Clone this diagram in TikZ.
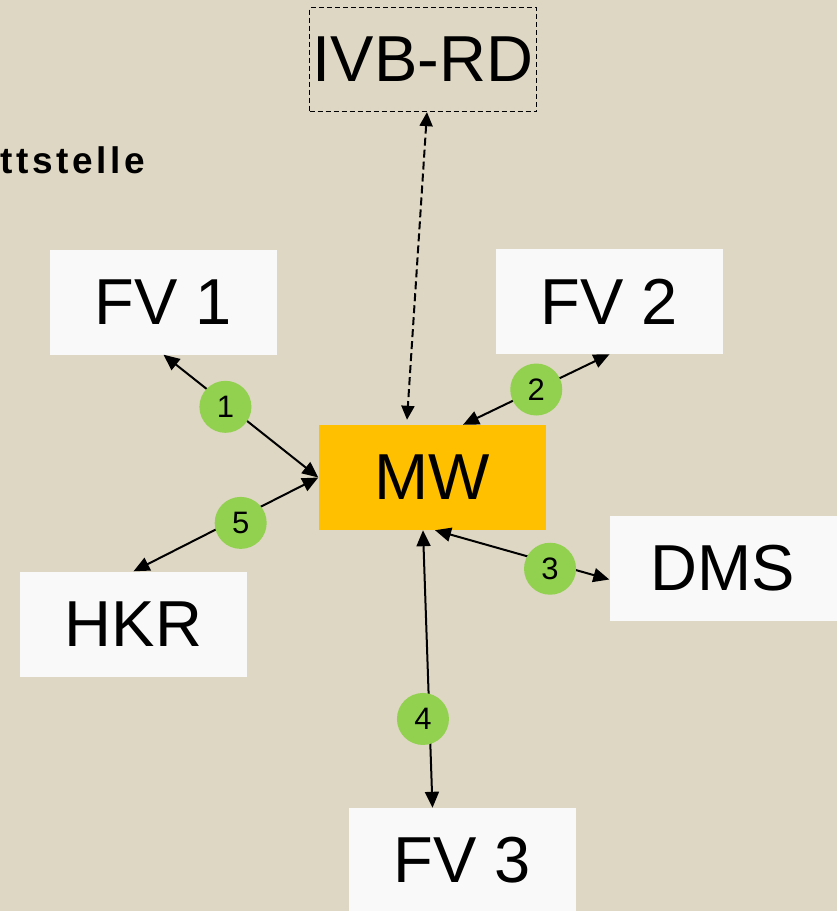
\documentclass[tikz,border=0pt]{standalone}
\usepackage{fontspec}
\setmainfont{Liberation Sans}
\usetikzlibrary{arrows.meta}
\usetikzlibrary{positioning}

\definecolor{paper}{RGB}{222,215,195}
\definecolor{mwgold}{RGB}{255,192,0}
\definecolor{numgreen}{RGB}{146,208,80}
\definecolor{boxwhite}{RGB}{249,249,249}

\begin{document}
\begin{tikzpicture}[x=1pt,y=-1pt,
  every node/.style={inner sep=0pt,font=\fontsize{65}{78}\selectfont},
  sys/.style={fill=boxwhite,minimum width=227pt,minimum height=105pt},
  mwbox/.style={fill=mwgold,minimum width=227pt,minimum height=105pt},
  ext/.style={draw,line width=1.3pt,dash pattern=on 5pt off 3pt,minimum width=227pt,minimum height=104pt},
  num/.style={circle,fill=numgreen,minimum size=52pt,font=\fontsize{31}{36}\selectfont},
  link/.style={line width=2pt,{Triangle[length=16pt,width=14pt]}-{Triangle[length=16pt,width=14pt]}},
  extlink/.style={line width=2pt,dash pattern=on 8pt off 4pt,{Triangle[length=14pt,width=13pt]}-{Triangle[length=14pt,width=13pt]}}]
  \fill[paper] (0,0) rectangle (837,911);
  \useasboundingbox (0,0) rectangle (837,911);

  \node (title) at (0,173)[anchor=base west,font=\fontsize{37}{44}\selectfont\bfseries\addfontfeatures{LetterSpace=10}]{ttstelle};

  \node (ivb) at (423,59.5)[ext]{IVB-RD};
  \node (fv1) at (163.5,302)[sys]{FV 1};
  \node (fv2) at (609.5,301.5)[sys]{FV 2};
  \node (mw) at (432,477.5)[mwbox]{MW};
  \node (dms) at (723,568.5)[sys]{DMS};
  \node (hkr) at (133.5,624)[sys]{HKR};
  \node (fv3) at (462.5,860)[sys,minimum height=104pt]{FV 3};

  \draw[extlink]([xshift=4pt]ivb.south)--([xshift=-25pt,yshift=5pt]mw.north);
  \draw[link](fv1.south)--node[num,pos=.40,yshift=-3pt]{1}(mw.west);
  \draw[link]([xshift=31pt]mw.north)--node[num,pos=.5]{2}(fv2.south);
  \draw[link]([xshift=3pt]mw.south)--node[num,pos=.66,yshift=-6pt]{3}([yshift=-11pt]dms.west);
  \draw[link]([xshift=-9pt]mw.south)--node[num,pos=.68,xshift=-6.5pt]{4}([xshift=-30pt]fv3.north);
  \draw[link](hkr.north)--node[num,pos=.58,yshift=-6pt]{5}(mw.west);
\end{tikzpicture}
\end{document}
